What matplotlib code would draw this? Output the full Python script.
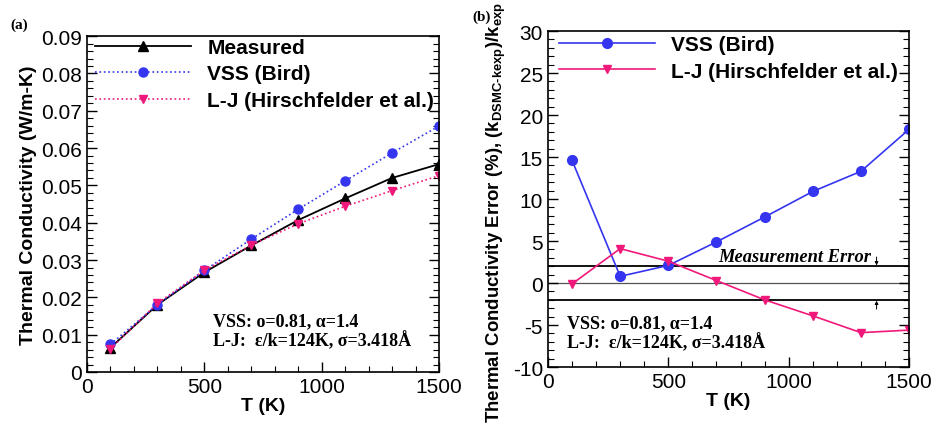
import matplotlib.pyplot as plt
from matplotlib.ticker import MultipleLocator

plt.rcParams["font.family"] = ["Liberation Sans", "DejaVu Sans"]
plt.rcParams["mathtext.fontset"] = "custom"
plt.rcParams["mathtext.rm"] = "Liberation Sans:bold"
plt.rcParams["mathtext.bf"] = "Liberation Sans:bold"
plt.rcParams["axes.unicode_minus"] = False

temps = [100, 300, 500, 700, 900, 1100, 1300, 1500]

# thermal conductivity, W/m-K
k_measured = [0.0065, 0.0180, 0.0267, 0.0339, 0.0407, 0.0465, 0.0520, 0.0557]
k_vss = [0.0074, 0.0180, 0.0272, 0.0356, 0.0436, 0.0512, 0.0587, 0.0659]
k_lj = [0.0062, 0.0184, 0.0272, 0.0340, 0.0397, 0.0444, 0.0486, 0.0526]

# relative error vs measurement, %
err_vss = [14.6, 0.8, 2.1, 4.9, 7.86, 10.9, 13.3, 18.3]
err_lj = [-0.1, 4.1, 2.6, 0.3, -2.0, -3.9, -5.9, -5.6]
meas_err = 2.0

BLUE = "#3535f0"
PINK = "#f0187a"
params_text = "VSS: \u03bf=0.81, \u03b1=1.4\nL-J:  \u03b5/k=124K, \u03c3=3.418\u00c5"
serif_bold = dict(family="Liberation Serif", fontweight="bold", fontsize=13)
legend_font = dict(family="Liberation Sans", weight="bold", size=15)
legend_kw = dict(loc="upper left", frameon=False, handlelength=4.6,
                 handletextpad=0.8, labelspacing=0.36, borderpad=0,
                 borderaxespad=0, prop=legend_font)


def style_axes(ax):
    ax.tick_params(which="both", direction="in", left=True, right=True,
                   bottom=True, top=False, labelsize=15)
    ax.tick_params(which="major", length=7, width=1)
    ax.tick_params(which="minor", length=4, width=0.8)
    ax.xaxis.set_major_locator(MultipleLocator(500))
    ax.xaxis.set_minor_locator(MultipleLocator(100))
    ax.set_xlim(0, 1500)
    ax.set_xlabel("T (K)", fontsize=14, fontweight="bold", labelpad=1)
    for s in ax.spines.values():
        s.set_linewidth(1.2)


fig = plt.figure(figsize=(9.34, 4.27), dpi=100)
ax1 = fig.add_axes([0.0931, 0.1265, 0.3769, 0.7865])
ax2 = fig.add_axes([0.5867, 0.138, 0.3866, 0.787])

# (a) conductivity
ax1.plot(temps, k_measured, "-", color="black", lw=1.3, marker="^", ms=6.5,
         label="Measured")
ax1.plot(temps, k_vss, ":", color=BLUE, lw=1.2, marker="o", ms=6.5,
         label="VSS (Bird)")
ax1.plot(temps, k_lj, ":", color=PINK, lw=1.2, marker="v", ms=6,
         label="L-J (Hirschfelder et al.)")
style_axes(ax1)
ax1.set_ylim(0, 0.09)
ax1.yaxis.set_major_locator(MultipleLocator(0.01))
ax1.yaxis.set_minor_locator(MultipleLocator(0.002))
ax1.yaxis.set_major_formatter(lambda v, p: "0" if abs(v) < 1e-9 else f"{v:.2f}")
ax1.set_ylabel("Thermal Conductivity (W/m-K)", fontsize=14, fontweight="bold",
               labelpad=3)
ax1.legend(bbox_to_anchor=(0.022, 0.995), **legend_kw)
ax1.text(537, 0.011, params_text, va="center", ha="left", linespacing=1.05,
         **serif_bold)
fig.text(0.011, 0.932, "(a)", family="Liberation Serif", fontweight="bold",
         fontsize=11)

# (b) relative error
ax2.plot(temps, err_vss, "-", color=BLUE, lw=1.2, marker="o", ms=7,
         label="VSS (Bird)")
ax2.plot(temps, err_lj, "-", color=PINK, lw=1.2, marker="v", ms=5.5,
         label="L-J (Hirschfelder et al.)")
ax2.axhline(0, color="#555555", lw=0.9, zorder=0)
ax2.axhline(meas_err, color="black", lw=1.3, zorder=0)
ax2.axhline(-meas_err, color="black", lw=1.3, zorder=0)
style_axes(ax2)
ax2.set_ylim(-10, 30)
ax2.yaxis.set_major_locator(MultipleLocator(5))
ax2.yaxis.set_minor_locator(MultipleLocator(1))
ax2.set_ylabel("Thermal Conductivity Error (%), "
               "(k$_\\mathregular{DSMC\u2010kexp}$)/k$_\\mathregular{exp}$",
               fontsize=13.4, fontweight="bold")
ax2.yaxis.set_label_coords(-0.112, 0.462)
ax2.legend(bbox_to_anchor=(0.03, 0.988), **legend_kw)
ax2.text(707, meas_err + 0.2, "Measurement Error", ha="left", va="bottom",
         family="Liberation Serif", fontweight="bold", fontstyle="italic",
         fontsize=13.3)
arrow = dict(arrowstyle="-|>", lw=0.7, color="black", mutation_scale=5,
             shrinkA=0, shrinkB=0)
ax2.annotate("", xy=(1365, meas_err + 0.1), xytext=(1365, meas_err + 1.1),
             arrowprops=arrow)
ax2.annotate("", xy=(1365, -meas_err - 0.1), xytext=(1365, -meas_err - 1.1),
             arrowprops=arrow)
ax2.text(79, -5.9, params_text, va="center", ha="left", linespacing=1.05,
         **serif_bold)
fig.text(0.506, 0.951, "(b)", family="Liberation Serif", fontweight="bold",
         fontsize=11)

fig.savefig("out.png", dpi=100)
